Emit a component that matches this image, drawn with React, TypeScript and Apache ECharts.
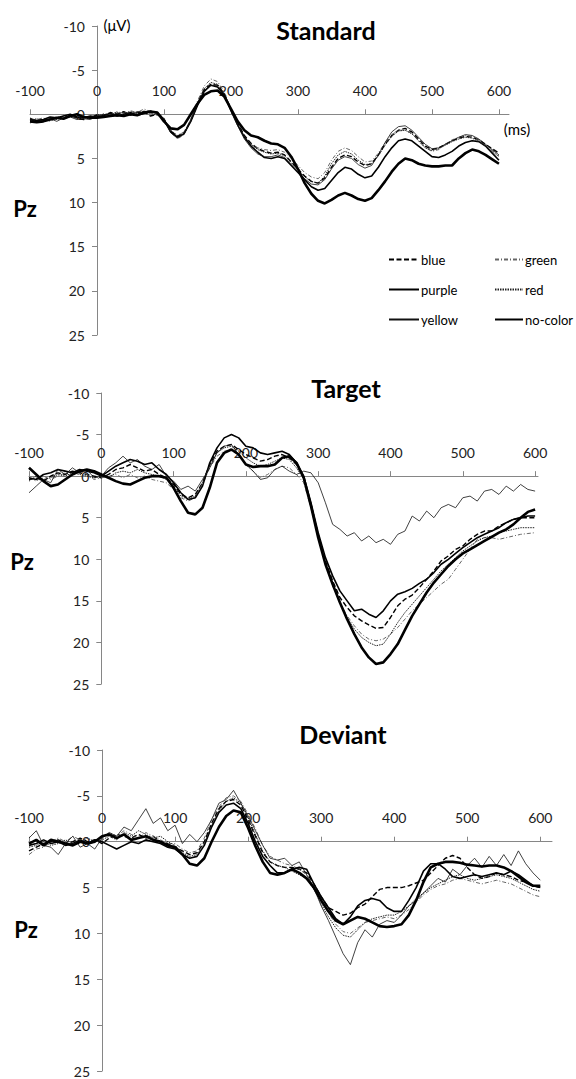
import { useEffect, useRef } from "react";
import * as echarts from "echarts";

// time points (ms)
const TIMES = [
  -100, -90, -80, -70, -60, -50, -40, -30, -20, -10,
  0, 10, 20, 30, 40, 50, 60, 70, 80, 90,
  100, 110, 120, 130, 140, 150, 160, 170, 180, 190,
  200, 210, 220, 230, 240, 250, 260, 270, 280, 290,
  300, 310, 320, 330, 340, 350, 360, 370, 380, 390,
  400, 410, 420, 430, 440, 450, 460, 470, 480, 490,
  500, 510, 520, 530, 540, 550, 560, 570, 580, 590,
  600,
];
const X_TICKS = [-100, 0, 100, 200, 300, 400, 500, 600];
const Y_MIN = -10;
const Y_MAX = 25;
const X_MIN = -100;
const CONDITIONS = ["blue", "green", "purple", "red", "yellow", "no-color"];
const PANEL_TITLES = ["Standard", "Target", "Deviant"];

// ---------- Standard ----------
const stdBlue = [
  0.6, 0.8, 0.5, 0.7, 0.3, 0.5, 0.2, 0.4, 0.6, 0.3,
  0.1, 0.2, -0.2, 0.0, -0.3, 0.1, -0.2, -0.3, 0.2, 0.0,
  0.6, 1.9, 2.5, 2.1, 0.7, -1.2, -2.8, -3.4, -3.3, -2.3,
  -0.6, 1.0, 2.4, 3.3, 3.9, 4.2, 4.4, 4.3, 4.6, 5.4,
  6.2, 7.0, 7.6, 7.8, 7.2, 6.0, 5.0, 4.6, 4.8, 5.4,
  5.8, 5.6, 4.6, 3.4, 2.4, 1.8, 1.6, 2.0, 2.8, 3.6,
  4.0, 3.8, 3.4, 3.0, 2.7, 2.5, 2.6, 2.9, 3.4, 3.9,
  4.4,
];
const stdGreen = [
  1.0, 0.6, 0.4, 0.8, 0.5, 0.1, 0.4, 0.2, 0.5, 0.4,
  0.2, -0.1, 0.1, -0.3, -0.1, -0.4, -0.2, -0.6, -0.3, -0.1,
  0.4, 2.0, 2.8, 2.3, 0.6, -1.5, -3.2, -4.0, -3.7, -2.5,
  -0.6, 1.2, 2.6, 3.4, 3.8, 4.0, 4.1, 4.0, 4.3, 5.0,
  5.8, 6.6, 7.1, 7.3, 6.6, 5.2, 4.2, 3.8, 4.1, 4.8,
  5.4, 5.3, 4.4, 3.2, 2.3, 1.8, 1.8, 2.2, 3.0, 3.8,
  4.2, 4.0, 3.4, 2.9, 2.6, 2.4, 2.5, 2.9, 3.5, 4.1,
  4.7,
];
const stdPurple = [
  0.5, 0.7, 0.6, 0.3, 0.4, 0.2, 0.0, 0.3, 0.4, 0.2,
  0.3, 0.1, -0.1, 0.2, 0.0, -0.2, 0.1, -0.1, -0.3, -0.2,
  0.6, 2.0, 2.6, 2.2, 0.8, -1.0, -2.6, -3.3, -3.1, -2.2,
  -0.4, 1.2, 2.6, 3.6, 4.3, 4.9, 5.0, 4.8, 5.0, 5.8,
  6.6, 7.4, 8.2, 8.6, 8.4, 7.5, 6.6, 6.0, 6.2, 6.8,
  7.2, 7.0, 6.0, 4.8, 3.8, 3.0, 2.8, 3.0, 3.6, 4.2,
  4.8, 4.9, 4.6, 4.2, 3.6, 3.2, 3.0, 3.1, 3.6, 4.4,
  5.2,
];
const stdRed = [
  0.7, 0.5, 0.8, 0.4, 0.6, 0.3, 0.1, 0.5, 0.3, 0.4,
  0.0, 0.2, 0.0, -0.2, 0.1, -0.3, 0.0, -0.4, -0.1, 0.1,
  0.5, 1.8, 2.4, 2.0, 0.6, -1.3, -2.9, -3.6, -3.4, -2.4,
  -0.5, 1.1, 2.5, 3.4, 4.0, 4.3, 4.5, 4.4, 4.7, 5.5,
  6.3, 7.1, 7.6, 7.8, 7.0, 5.6, 4.6, 4.2, 4.5, 5.2,
  5.7, 5.6, 4.7, 3.5, 2.5, 1.9, 1.8, 2.2, 3.0, 3.8,
  4.1, 3.9, 3.5, 3.1, 2.8, 2.6, 2.7, 3.1, 3.6, 4.2,
  4.8,
];
const stdYellow = [
  0.4, 0.9, 0.7, 0.5, 0.8, 0.4, 0.3, 0.6, 0.5, 0.6,
  0.2, 0.0, 0.2, -0.1, -0.2, 0.0, -0.3, -0.2, -0.4, 0.0,
  0.7, 2.1, 2.7, 2.2, 0.8, -1.1, -2.7, -3.3, -3.2, -2.2,
  -0.4, 1.3, 2.8, 3.8, 4.5, 4.8, 4.8, 4.6, 4.9, 5.7,
  6.5, 7.3, 7.9, 8.0, 7.4, 6.2, 5.2, 4.8, 5.0, 5.7,
  6.1, 5.8, 4.6, 3.2, 2.0, 1.4, 1.3, 1.8, 2.6, 3.4,
  3.9, 3.8, 3.4, 3.0, 2.6, 2.3, 2.4, 2.8, 3.4, 4.0,
  4.6,
];
const stdNoColor = [
  0.8, 0.9, 0.8, 0.6, 0.4, 0.5, 0.2, 0.0, 0.3, 0.4,
  0.4, 0.3, 0.2, 0.1, 0.2, 0.0, 0.1, -0.2, -0.3, -0.2,
  0.8, 1.6, 1.7, 1.2, 0.0, -1.2, -2.2, -2.6, -2.7, -2.0,
  -0.6, 0.8, 1.8, 2.4, 2.6, 3.0, 3.3, 3.4, 3.8, 4.8,
  6.2, 7.8, 9.0, 9.8, 10.1, 9.7, 9.2, 8.9, 9.2, 9.6,
  9.8, 9.5, 8.6, 7.6, 6.5, 5.6, 5.0, 5.2, 5.6, 5.8,
  5.9, 5.9, 5.8, 5.8, 5.0, 4.4, 4.0, 4.2, 4.6, 5.1,
  5.6,
];

// ---------- Target ----------
const tgtBlue = [
  0.4, 0.2, 0.6, 0.0, -0.4, -0.2, -0.6, -0.4, -0.2, 0.0,
  0.2, -0.2, -0.8, -1.0, -1.4, -1.0, -0.6, -0.8, -0.2, 0.2,
  1.0, 2.2, 2.6, 2.2, 0.8, -1.4, -3.0, -3.6, -3.8, -3.2,
  -2.6, -2.2, -1.8, -2.0, -2.4, -2.6, -2.2, -1.4, 0.2, 3.4,
  7.0, 10.2, 12.6, 14.6, 15.8, 16.8, 17.4, 17.9, 18.3, 18.2,
  17.0, 15.6, 14.8, 14.3, 13.4, 12.4, 11.4, 10.2, 9.6, 8.8,
  8.4, 7.6, 7.0, 6.6, 6.6, 6.0, 5.6, 5.2, 5.0, 5.0,
  5.0,
];
const tgtGreen = [
  0.2, 0.6, 0.0, 0.4, 0.0, -0.4, 0.0, -0.6, -0.2, 0.4,
  0.2, 0.0, -0.2, 0.2, -0.2, 0.2, 0.0, 0.4, 0.6, 0.8,
  1.6, 2.6, 3.0, 2.6, 1.0, -1.0, -2.4, -3.0, -3.2, -2.6,
  -1.4, -0.6, 0.2, -0.2, -0.8, -1.2, -1.0, -0.2, 0.8, 3.8,
  7.4, 10.6, 13.2, 15.2, 16.8, 18.0, 19.0, 19.6, 19.8, 19.6,
  19.0, 18.2, 17.2, 16.2, 15.4, 14.6, 13.8, 13.0, 12.4, 11.2,
  10.0, 8.8, 7.6, 7.4, 7.4, 7.6, 7.4, 7.2, 7.0, 6.9,
  6.8,
];
const tgtPurple = [
  0.2, 0.4, -0.2, -0.4, -0.8, -0.6, -0.4, -0.8, -0.6, -0.4,
  0.0, -0.6, -1.2, -1.6, -2.0, -1.8, -1.4, -1.6, -0.8, -0.2,
  0.8, 2.0, 2.8, 2.6, 1.2, -1.6, -3.4, -4.6, -5.0, -4.6,
  -3.6, -3.4, -2.8, -2.6, -2.8, -3.0, -2.6, -1.6, 0.0, 3.2,
  6.8, 9.8, 12.0, 13.8, 15.0, 16.2, 16.0, 16.6, 17.0, 16.2,
  15.0, 14.2, 13.9, 13.5, 12.9, 12.4, 11.6, 10.6, 10.0, 9.3,
  8.6, 8.0, 7.4, 7.0, 6.6, 6.2, 5.6, 5.2, 5.0, 4.8,
  4.8,
];
const tgtRed = [
  0.6, 0.0, 0.4, 0.2, -0.2, 0.0, -0.4, -0.2, 0.0, 0.2,
  0.0, 0.2, -0.4, -0.6, -0.4, -0.8, -0.4, -0.2, 0.0, 0.4,
  1.2, 2.4, 2.8, 2.4, 0.8, -1.2, -2.8, -3.4, -3.6, -3.0,
  -2.2, -1.6, -1.2, -1.4, -1.8, -2.2, -2.0, -1.0, 0.4, 3.6,
  7.2, 10.4, 13.0, 15.2, 17.0, 18.4, 19.4, 20.0, 20.4, 20.2,
  19.0, 17.6, 16.4, 15.4, 14.4, 13.4, 12.4, 11.4, 10.6, 9.8,
  9.0, 8.4, 7.8, 7.4, 7.2, 6.8, 6.6, 6.4, 6.2, 6.2,
  6.2,
];
const tgtYellow = [
  2.0, 1.2, 0.4, 0.8, -0.8, -0.2, -1.0, -0.4, -0.8, 0.2,
  0.0, -1.0, -1.6, -2.4, -1.6, -2.0, -1.2, -0.8, -1.4, 0.0,
  0.6, 1.6, 1.2, 1.8, 0.4, -1.0, -2.8, -3.6, -3.8, -2.6,
  -1.4, -0.6, 0.4, 0.2, -0.8, -1.2, -0.6, -0.2, -0.6, -0.4,
  0.8, 3.2, 5.8, 6.4, 7.2, 6.8, 7.8, 7.2, 8.0, 7.6,
  8.2, 7.0, 6.6, 4.8, 5.4, 4.2, 5.0, 3.8, 3.4, 3.8,
  2.6, 2.4, 3.0, 1.8, 1.6, 2.2, 1.2, 1.8, 1.0, 1.6,
  1.8,
];
const tgtNoColor = [
  -1.0, -0.2, 0.6, 1.2, 1.0, 0.4, -0.2, -0.6, -0.8, -0.6,
  -0.2, 0.2, 0.6, 0.9, 1.0, 0.6, 0.2, 0.0, 0.0, 0.2,
  1.4, 3.0, 4.4, 4.6, 3.8, 1.4, -1.6, -2.8, -3.2, -2.6,
  -1.4, -1.1, -1.2, -1.2, -1.4, -2.2, -2.4, -1.6, 0.2, 3.6,
  7.4, 10.6, 13.0, 15.2, 17.2, 19.0, 20.6, 21.8, 22.6, 22.4,
  21.4, 20.2, 18.5, 16.8, 15.4, 14.0, 12.8, 11.8, 10.8, 10.0,
  9.3, 8.8, 8.3, 7.8, 7.3, 6.8, 6.4, 5.8, 5.0, 4.3,
  4.0,
];

// ---------- Deviant ----------
const devBlue = [
  1.0, 0.6, 0.2, 0.0, -0.2, 0.2, 0.0, -0.4, 0.0, -0.2,
  0.2, -0.4, -0.8, -0.6, -0.4, -0.8, -0.4, -0.6, 0.0, 0.2,
  0.6, 1.0, 1.4, 1.2, 0.0, -2.0, -3.6, -4.4, -4.6, -4.0,
  -2.4, -0.6, 1.2, 2.2, 2.6, 2.8, 2.8, 3.0, 3.4, 4.6,
  6.0, 7.2, 7.6, 8.0, 7.8, 7.2, 6.8, 6.0, 5.2, 5.0,
  5.0, 5.0, 4.8, 4.5, 4.2, 3.4, 2.6, 1.8, 1.5, 1.8,
  2.8, 3.6, 4.0, 3.8, 3.4, 3.6, 3.8, 4.2, 4.4, 4.8,
  5.0,
];
const devGreen = [
  1.4, 0.8, 0.6, 0.0, -0.4, 0.0, -0.6, -0.2, 0.4, 0.0,
  -0.4, -1.0, -0.6, -1.2, -0.8, -0.4, -1.0, -0.6, -0.2, 0.2,
  0.2, 0.8, 1.2, 1.0, -0.4, -2.4, -3.8, -4.8, -5.0, -4.4,
  -3.0, -1.4, 0.4, 1.6, 2.0, 2.4, 2.6, 3.0, 3.6, 4.8,
  6.4, 7.8, 9.0, 9.8, 10.0, 9.4, 8.8, 8.6, 8.4, 8.2,
  8.4, 8.0, 7.4, 6.6, 5.8, 5.2, 4.8, 4.6, 4.2, 4.0,
  4.2, 4.4, 4.6, 4.4, 4.2, 4.4, 4.6, 5.0, 5.4, 5.8,
  6.0,
];
const devPurple = [
  0.4, 0.2, -0.2, 0.2, 0.0, 0.4, 0.2, -0.2, 0.2, -0.2,
  0.0, 0.4, 0.8, 0.4, 0.0, 0.2, -0.2, 0.0, 0.2, 0.6,
  0.8, 1.4, 1.8, 1.6, 0.4, -1.6, -3.2, -4.0, -4.2, -3.6,
  -2.0, 0.0, 1.6, 2.6, 3.4, 3.4, 3.0, 2.8, 3.0, 4.6,
  6.0, 7.2, 8.4, 9.0, 8.2, 7.0, 6.4, 6.2, 6.4, 7.2,
  7.6, 7.6, 6.4, 5.0, 3.2, 2.4, 2.4, 3.0, 3.8, 4.0,
  3.8, 3.6, 3.8, 3.6, 3.4, 3.6, 3.2, 3.6, 4.2, 4.8,
  5.0,
];
const devRed = [
  0.6, 0.4, 0.0, 0.4, 0.2, -0.2, 0.2, 0.0, -0.4, 0.0,
  -0.2, -0.6, -0.2, -1.0, -0.6, -1.2, -0.8, -0.4, -0.6, 0.0,
  0.4, 1.2, 1.6, 1.4, 0.2, -1.8, -3.4, -4.4, -4.8, -4.2,
  -2.6, -0.8, 1.0, 2.2, 2.6, 2.8, 3.2, 3.6, 4.0, 5.2,
  6.8, 8.2, 9.4, 10.2, 10.4, 9.6, 8.8, 8.4, 8.2, 8.0,
  8.0, 7.6, 7.0, 6.2, 5.6, 5.0, 4.6, 4.2, 3.8, 3.6,
  4.0, 4.2, 4.0, 3.8, 3.6, 3.8, 4.0, 4.4, 4.8, 5.2,
  5.4,
];
const devYellow = [
  -0.4, -1.2, 0.4, 0.6, 1.4, 0.2, -0.6, 0.6, 0.2, 0.8,
  -0.4, -1.0, -0.6, -1.6, -1.2, -2.4, -3.6, -2.0, -2.6, -1.2,
  -1.8, 0.2, -0.8, 0.0, -1.0, -2.4, -4.2, -4.6, -5.6, -4.2,
  -2.8, -1.2, 0.4, 1.8, 2.0, 1.8, 2.6, 2.2, 3.6, 5.0,
  7.0, 8.6, 10.4, 12.2, 13.4, 11.0, 9.6, 10.4, 9.0, 8.6,
  8.8, 8.0, 7.0, 6.4, 5.6, 4.8, 4.0, 4.4, 3.0, 3.6,
  2.6, 1.8, 2.8, 1.6, 2.6, 1.4, 2.6, 1.0, 2.4, 3.4,
  4.2,
];
const devNoColor = [
  0.2, -0.2, 0.4, -0.2, 0.0, 0.2, 0.4, 0.0, 0.2, 0.0,
  -0.6, -0.8, -0.4, -0.8, -0.2, -0.4, -0.6, -0.2, 0.0, 0.4,
  0.6, 1.4, 2.4, 2.6, 1.8, 0.0, -1.6, -2.8, -3.4, -3.2,
  -1.5, 0.5, 2.2, 3.4, 3.6, 3.4, 3.0, 3.4, 4.0, 5.0,
  6.4, 7.6, 8.6, 9.0, 8.6, 8.2, 8.4, 8.8, 9.2, 9.3,
  9.2, 9.0, 8.0, 6.4, 4.4, 2.8, 2.4, 2.2, 2.2, 2.3,
  2.5, 2.6, 2.7, 2.6, 2.6, 2.8, 3.2, 3.8, 4.4, 4.8,
  4.8,
];

const PANEL_DATA = [
  [stdBlue, stdGreen, stdPurple, stdRed, stdYellow, stdNoColor],
  [tgtBlue, tgtGreen, tgtPurple, tgtRed, tgtYellow, tgtNoColor],
  [devBlue, devGreen, devPurple, devRed, devYellow, devNoColor],
];

const FONT = "Lato, 'Open Sans', sans-serif";
const CHART_W = 576;
const CHART_H = 1079;

const LINE_STYLES: Record<string, any> = {
  blue: { color: "#000", width: 1.4, type: [5, 2.5] },
  green: { color: "#666", width: 1, type: [4, 2, 1, 2] },
  purple: { color: "#000", width: 1.6, type: "solid" },
  red: { color: "#222", width: 1, type: [1.5, 1] },
  yellow: { color: "#111", width: 0.8, type: "solid" },
  "no-color": { color: "#000", width: 2.6, type: "solid" },
};

const GRIDS = [
  { left: 30, right: 67, top: 26, height: 309 },
  { left: 29, right: 38, top: 393, height: 291 },
  { left: 29, right: 24, top: 750, height: 321 },
];
const X_MAX = [615, 604, 616];
const AXIS_COLOR = "#868686";

function buildOption() {
  const series: any[] = [];
  PANEL_DATA.forEach((panel, p) => {
    panel.forEach((vals, c) => {
      const name = CONDITIONS[c];
      series.push({
        name,
        type: "line",
        xAxisIndex: p,
        yAxisIndex: p,
        symbol: "none",
        color: LINE_STYLES[name].color,
        lineStyle: LINE_STYLES[name],
        z: name === "no-color" ? 4 : 3,
        data: TIMES.map((t, i) => [t, vals[i]]),
      });
    });
  });

  // the axes cross at zero: shift each axis (line, ticks, labels) into the grid
  const xAxis = GRIDS.map((g, p) => ({
    gridIndex: p,
    type: "value",
    min: X_MIN,
    max: X_MAX[p],
    position: "top",
    offset: -(g.height * (0 - Y_MIN)) / (Y_MAX - Y_MIN),
    axisLine: { show: true, onZero: false, lineStyle: { color: AXIS_COLOR, width: 1 } },
    axisTick: { show: true, length: 5, customValues: X_TICKS, lineStyle: { color: AXIS_COLOR } },
    axisLabel: { customValues: X_TICKS, margin: 17, fontSize: 14, color: "#222", fontFamily: FONT },
    splitLine: { show: false },
  }));

  const yAxis = GRIDS.map((g, p) => {
    const w = CHART_W - g.left - g.right;
    return {
      gridIndex: p,
      type: "value",
      min: Y_MIN,
      max: Y_MAX,
      interval: 5,
      inverse: true,
      position: "left",
      offset: -(w * (0 - X_MIN)) / (X_MAX[p] - X_MIN),
      axisLine: { show: true, onZero: false, lineStyle: { color: AXIS_COLOR, width: 1 } },
      axisTick: { show: true, length: 5, lineStyle: { color: AXIS_COLOR } },
      axisLabel: { margin: 12, fontSize: 14, color: "#222", fontFamily: FONT },
      splitLine: { show: false },
    };
  });

  const txt = (text: string, x: number, y: number, size: number, bold: boolean) => ({
    type: "text",
    x,
    y,
    z: 10,
    style: {
      text,
      fontSize: size,
      fontWeight: bold ? "bold" : "normal",
      fontFamily: FONT,
      fill: "#000",
      align: "center",
      verticalAlign: "middle",
      textAlign: "center",
      textVerticalAlign: "middle",
    },
  });

  const graphic = [
    txt(PANEL_TITLES[0], 326, 30, 25, true),
    txt(PANEL_TITLES[1], 346, 388, 25, true),
    txt(PANEL_TITLES[2], 343, 734, 25, true),
    txt("Pz", 25, 208, 22, true),
    txt("Pz", 22, 561, 22, true),
    txt("Pz", 26, 929, 22, true),
    txt("(μV)", 117, 25, 15, false),
    txt("(ms)", 517, 129, 15, false),
  ];

  const legendBase = {
    orient: "vertical",
    itemWidth: 30,
    itemHeight: 14,
    itemGap: 17,
    itemStyle: { opacity: 0, borderWidth: 0 },
    textStyle: { fontSize: 13, color: "#000", fontFamily: FONT, padding: [0, 0, 0, -3] },
    selectedMode: false,
  };

  return {
    animation: false,
    backgroundColor: "#fff",
    grid: GRIDS,
    xAxis,
    yAxis,
    series,
    graphic,
    legend: [
      { ...legendBase, left: 383, top: 248, data: ["blue", "purple", "yellow"] },
      { ...legendBase, left: 489, top: 248, itemWidth: 28, data: ["green", "red", "no-color"] },
    ],
  };
}

export default function App() {
  const ref = useRef<HTMLDivElement>(null);
  useEffect(() => {
    if (!ref.current) return;
    const chart = echarts.init(ref.current, undefined, { renderer: "svg" });
    chart.setOption(buildOption() as any);
    return () => chart.dispose();
  }, []);
  return (
    <div
      ref={ref}
      style={{ position: "absolute", left: 0, top: 0, width: CHART_W, height: CHART_H, background: "#fff" }}
    />
  );
}
